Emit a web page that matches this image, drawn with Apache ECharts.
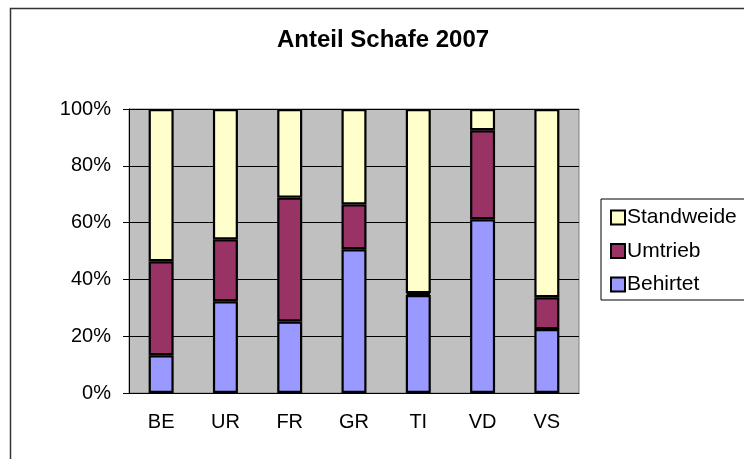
<!DOCTYPE html>
<html lang="de" style="height: 100%">
<head>
    <meta charset="UTF-8">
    <title>Anteil Schafe 2007</title>
    <script src="https://cdn.jsdelivr.net/npm/echarts@6/dist/echarts.min.js"></script>
</head>
<body style="height: 100%; margin: 0">
<div id="main" style="width: 744px; height: 459px"></div>
<script>
    // Anteile in Prozent, pro Kanton
    var kantone = ['BE', 'UR', 'FR', 'GR', 'TI', 'VD', 'VS'];
    var behirtet = [13.3, 32.3, 25.2, 50.6, 34.5, 61.2, 22.5];
    var umtrieb = [33.1, 21.8, 43.6, 15.8, 0.6, 31.3, 11.2];
    var standweide = [53.6, 45.9, 31.2, 33.6, 64.9, 7.5, 66.3];
    var yTicks = [0, 20, 40, 60, 80, 100];

    var font = 'Liberation Sans, Arial, sans-serif';

    function serie(name, data, color) {
        return {
            name: name,
            type: 'bar',
            stack: 'anteil',
            barWidth: 25,
            data: data,
            itemStyle: {
                color: color,
                borderColor: '#000',
                borderWidth: 2.2
            }
        };
    }

    var myChart = echarts.init(document.getElementById('main'));
    myChart.setOption({
        animation: false,
        title: {
            text: 'Anteil Schafe 2007',
            left: 272,
            top: 23,
            textStyle: {
                fontFamily: font,
                fontSize: 24,
                fontWeight: 'bold',
                color: '#000'
            }
        },
        legend: {
            orient: 'vertical',
            left: 601,
            top: 199,
            padding: [8, 40, 5, 9],
            itemGap: 12.5,
            itemWidth: 14,
            itemHeight: 14,
            borderColor: '#000',
            borderWidth: 1,
            icon: 'rect',
            data: ['Standweide', 'Umtrieb', 'Behirtet'],
            textStyle: {
                fontFamily: font,
                fontSize: 21,
                color: '#000',
                padding: [0, 0, 0, -3]
            }
        },
        grid: {
            left: 129,
            right: 165,
            top: 109,
            bottom: 66,
            show: true,
            backgroundColor: '#C0C0C0',
            borderColor: '#808080',
            borderWidth: 1
        },
        xAxis: {
            type: 'category',
            data: kantone,
            axisLine: { lineStyle: { color: '#000', width: 1 } },
            axisTick: { length: 5, lineStyle: { color: '#000' } },
            axisLabel: {
                margin: 19,
                fontFamily: font,
                fontSize: 20,
                color: '#000'
            }
        },
        yAxis: {
            type: 'value',
            min: yTicks[0],
            max: yTicks[yTicks.length - 1],
            interval: 20,
            axisLine: { show: true, lineStyle: { color: '#000', width: 1 } },
            axisTick: { show: true, length: 6, lineStyle: { color: '#000' } },
            splitLine: { lineStyle: { color: '#000', width: 1 } },
            axisLabel: {
                margin: 18,
                fontFamily: font,
                fontSize: 20,
                color: '#000',
                formatter: '{value}%'
            }
        },
        graphic: [{
            type: 'rect',
            silent: true,
            shape: { x: 10.5, y: 8.5, width: 800, height: 500 },
            style: { fill: 'none', stroke: '#333', lineWidth: 1.5 }
        }],
        series: [
            serie('Behirtet', behirtet, '#9999FF'),
            serie('Umtrieb', umtrieb, '#993366'),
            serie('Standweide', standweide, '#FFFFCC')
        ]
    });
</script>
</body>
</html>
